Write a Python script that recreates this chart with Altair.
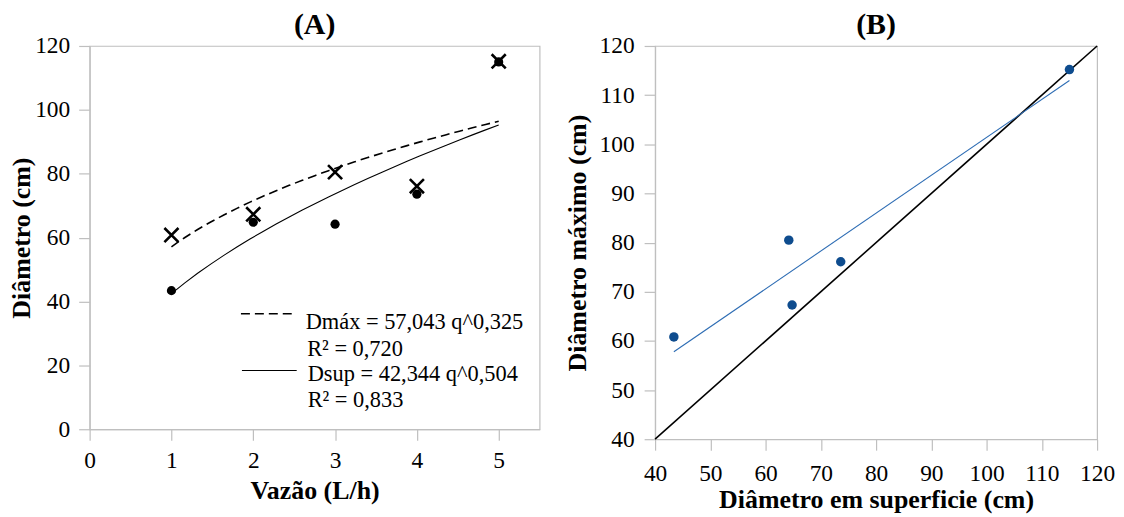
import altair as alt
import pandas as pd

# ---------------- data ----------------
vazao = [1, 2, 3, 4, 5]                          # L/h
d_sup = [43.4, 64.8, 64.2, 73.6, 115.0]          # diâmetro em superfície (cm)
d_max = [60.8, 67.3, 80.5, 76.1, 115.2]          # diâmetro máximo (cm)
identity_ends = [40, 120]                        # 1:1 line in panel B
xticks_a = [0, 1, 2, 3, 4, 5]
yticks_a = [0, 20, 40, 60, 80, 100, 120]
ticks_b = [40, 50, 60, 70, 80, 90, 100, 110, 120]
eq_max = ["Dmáx = 57,043 q^0,325", "R² = 0,720"]
eq_sup = ["Dsup = 42,344 q^0,504", "R² = 0,833"]

FONT = "Liberation Serif"
GRAY = "#BFBFBF"
BLUE_PT = "#0E4C8E"
BLUE_LN = "#2E6DB4"

df = pd.DataFrame({"q": vazao, "Dsup": d_sup, "Dmax": d_max})
idf = pd.DataFrame({"Dsup": identity_ends, "Dmax": identity_ends})


def txt(s, x, y):
    return alt.Chart(pd.DataFrame({"t": [s]})).mark_text(
        align="left", baseline="middle", font=FONT, fontSize=22.5, color="black"
    ).encode(text="t:N", x=alt.value(x), y=alt.value(y))


# ---------------- panel A ----------------
xA = alt.X("q:Q", scale=alt.Scale(domain=[0, 5.5], nice=False),
           axis=alt.Axis(values=xticks_a, title="Vazão (L/h)", labelPadding=8, titlePadding=6))
yA_sup = alt.Y("Dsup:Q", scale=alt.Scale(domain=[0, 120], nice=False),
               axis=alt.Axis(values=yticks_a, title="Diâmetro (cm)", labelPadding=9, titlePadding=0))
yA_max = alt.Y("Dmax:Q", scale=alt.Scale(domain=[0, 120], nice=False))

baseA = alt.Chart(df)

trend_max = baseA.transform_regression("q", "Dmax", method="pow", extent=[1, 5]).mark_line(
    color="black", strokeWidth=1.6, strokeDash=[9, 5]).encode(x=xA, y=yA_max)
trend_sup = baseA.transform_regression("q", "Dsup", method="pow", extent=[1, 5]).mark_line(
    color="black", strokeWidth=1.1).encode(x=xA, y=yA_sup)
pts_sup = baseA.mark_point(shape="circle", filled=True, color="black", size=85, opacity=1).encode(x=xA, y=yA_sup)
pts_max = baseA.mark_point(shape="M-1,-1L1,1M-1,1L1,-1", filled=False, color="black",
                           strokeWidth=2.6, size=200, opacity=1).encode(x=xA, y=yA_max)

leg_dash = alt.Chart(pd.DataFrame({"t": [eq_max[0]]})).mark_rule(
    color="black", strokeWidth=1.4, strokeDash=[9, 5]).encode(
    x=alt.value(152), x2=alt.value(208), y=alt.value(269))
leg_solid = alt.Chart(pd.DataFrame({"t": [eq_sup[0]]})).mark_rule(
    color="black", strokeWidth=1.1).encode(
    x=alt.value(153), x2=alt.value(208), y=alt.value(326))

panelA = alt.layer(
    trend_max, trend_sup, pts_sup, pts_max, leg_dash, leg_solid,
    txt(eq_max[0], 217, 277), txt(eq_max[1], 218.5, 304),
    txt(eq_sup[0], 219, 330), txt(eq_sup[1], 219, 356),
).properties(
    width=452, height=385,
    title=alt.TitleParams("(A)", font=FONT, fontSize=30, fontWeight="bold", offset=-6, color="black"),
)

# ---------------- panel B ----------------
xB = alt.X("Dsup:Q", scale=alt.Scale(domain=[40, 120], nice=False),
           axis=alt.Axis(values=ticks_b, title="Diâmetro em superficie (cm)", labelPadding=11, titlePadding=2))
yB = alt.Y("Dmax:Q", scale=alt.Scale(domain=[40, 120], nice=False),
           axis=alt.Axis(values=ticks_b, title="Diâmetro máximo (cm)", labelPadding=10, titlePadding=9))

one_to_one = alt.Chart(idf).mark_line(color="black", strokeWidth=1.6).encode(x=xB, y=yB)
trendB = alt.Chart(df).transform_regression("Dsup", "Dmax", method="linear").mark_line(
    color=BLUE_LN, strokeWidth=1.1).encode(x=xB, y=yB)
ptsB = alt.Chart(df).mark_point(shape="circle", filled=True, color=BLUE_PT, size=90, opacity=1).encode(x=xB, y=yB)

panelB = alt.layer(one_to_one, trendB, ptsB).properties(
    width=444, height=395,
    title=alt.TitleParams("(B)", font=FONT, fontSize=30, fontWeight="bold", offset=-6, color="black"),
)

chart = alt.hconcat(panelA, panelB, spacing=23).properties(padding=0).configure_view(
    stroke=GRAY, strokeWidth=1.2
).configure_axis(
    grid=False, domainColor=GRAY, domainWidth=1.2, tickColor=GRAY, tickWidth=1.2, tickSize=11,
    labelFont=FONT, labelFontSize=23.5, labelColor="black", labelFlush=False, labelOverlap=False,
    titleFont=FONT, titleFontSize=26, titleFontWeight="bold", titleColor="black",
)

chart.save("out.html", embed_options={"renderer": "svg", "actions": False})
